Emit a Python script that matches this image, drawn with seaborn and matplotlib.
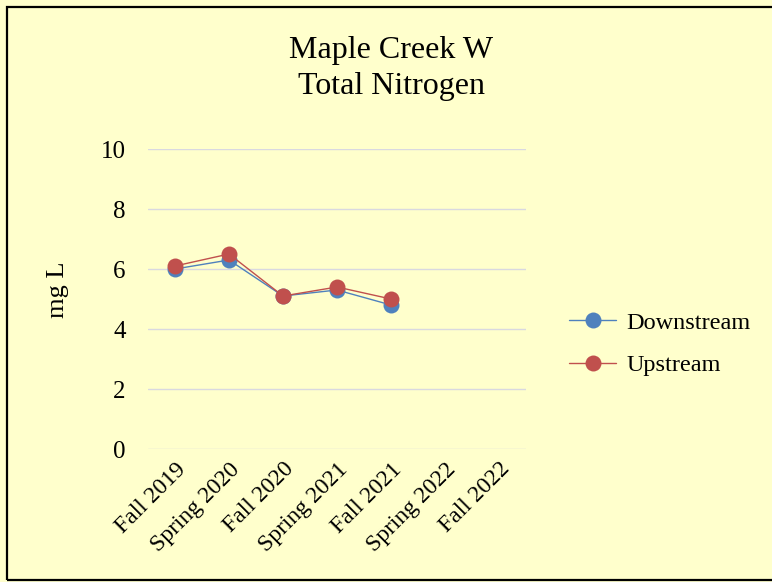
import matplotlib
matplotlib.use("Agg")
import matplotlib.pyplot as plt
import seaborn as sns
import pandas as pd
from matplotlib.patches import Rectangle

categories = ["Fall 2019", "Spring 2020", "Fall 2020", "Spring 2021", "Fall 2021", "Spring 2022", "Fall 2022"]
downstream = [6.0, 6.3, 5.1, 5.3, 4.8]
upstream = [6.1, 6.5, 5.1, 5.4, 5.0]
yticks = [0, 2, 4, 6, 8, 10]

sns.set_theme(style="white")
plt.rcParams['font.family'] = ['Liberation Serif', 'DejaVu Serif']
plt.rcParams['text.color'] = 'black'
plt.rcParams['xtick.color'] = 'black'
plt.rcParams['ytick.color'] = 'black'

bg = "#FFFFCC"
rows = []
for i, v in enumerate(downstream):
    rows.append({"x": i, "val": v, "site": "Downstream"})
for i, v in enumerate(upstream):
    rows.append({"x": i, "val": v, "site": "Upstream"})
df = pd.DataFrame(rows)

W, H = 772, 582
fig = plt.figure(figsize=(W/100, H/100), dpi=100)
fig.patch.set_facecolor(bg)
fig.patches.append(Rectangle((7/W, 1-580/H), (800-7)/W, (580-7)/H, transform=fig.transFigure,
                             fill=False, edgecolor="black", linewidth=1.6, clip_on=False))
ax = fig.add_axes([148/W, 1-449/H, (526-148)/W, (449-149)/H])
ax.set_facecolor(bg)

sns.lineplot(data=df, x="x", y="val", hue="site", palette={"Downstream": "#4F81BD", "Upstream": "#C0504D"},
             marker="o", markersize=11.5, markeredgewidth=0, linewidth=1, ax=ax, sort=False)

ax.set_xlim(-0.5, 6.5)
ax.set_ylim(0, 10)
ax.set_yticks(yticks)
ax.set_yticklabels([str(t) for t in yticks], fontsize=18)
ax.set_xticks(range(len(categories)))
ax.set_xticklabels(categories, rotation=45, ha="right", rotation_mode="anchor", fontsize=17)
ax.tick_params(axis="x", length=0, pad=7)
ax.tick_params(axis="y", length=0, pad=16)
ax.yaxis.grid(True, color="#D9D9E0", linewidth=1)
ax.set_axisbelow(True)
for s in ax.spines.values():
    s.set_visible(False)
ax.set_xlabel("")
ax.set_ylabel("")

fig.text(58/W, 1-290/H, "mg L", rotation=90, fontsize=19, ha="center", va="center")
fig.text(391/W, 1-36/H, "Maple Creek W\nTotal Nitrogen", fontsize=23, ha="center", va="top",
         linespacing=1.3, multialignment="center")

leg = ax.legend(loc="center left", bbox_to_anchor=(569/W, 1-344/H), bbox_transform=fig.transFigure,
                frameon=False, fontsize=17.5, handlelength=1.95, labelspacing=0.85,
                handletextpad=0.4, borderpad=0, borderaxespad=0)

fig.savefig("out.png", dpi=100, facecolor=bg)
